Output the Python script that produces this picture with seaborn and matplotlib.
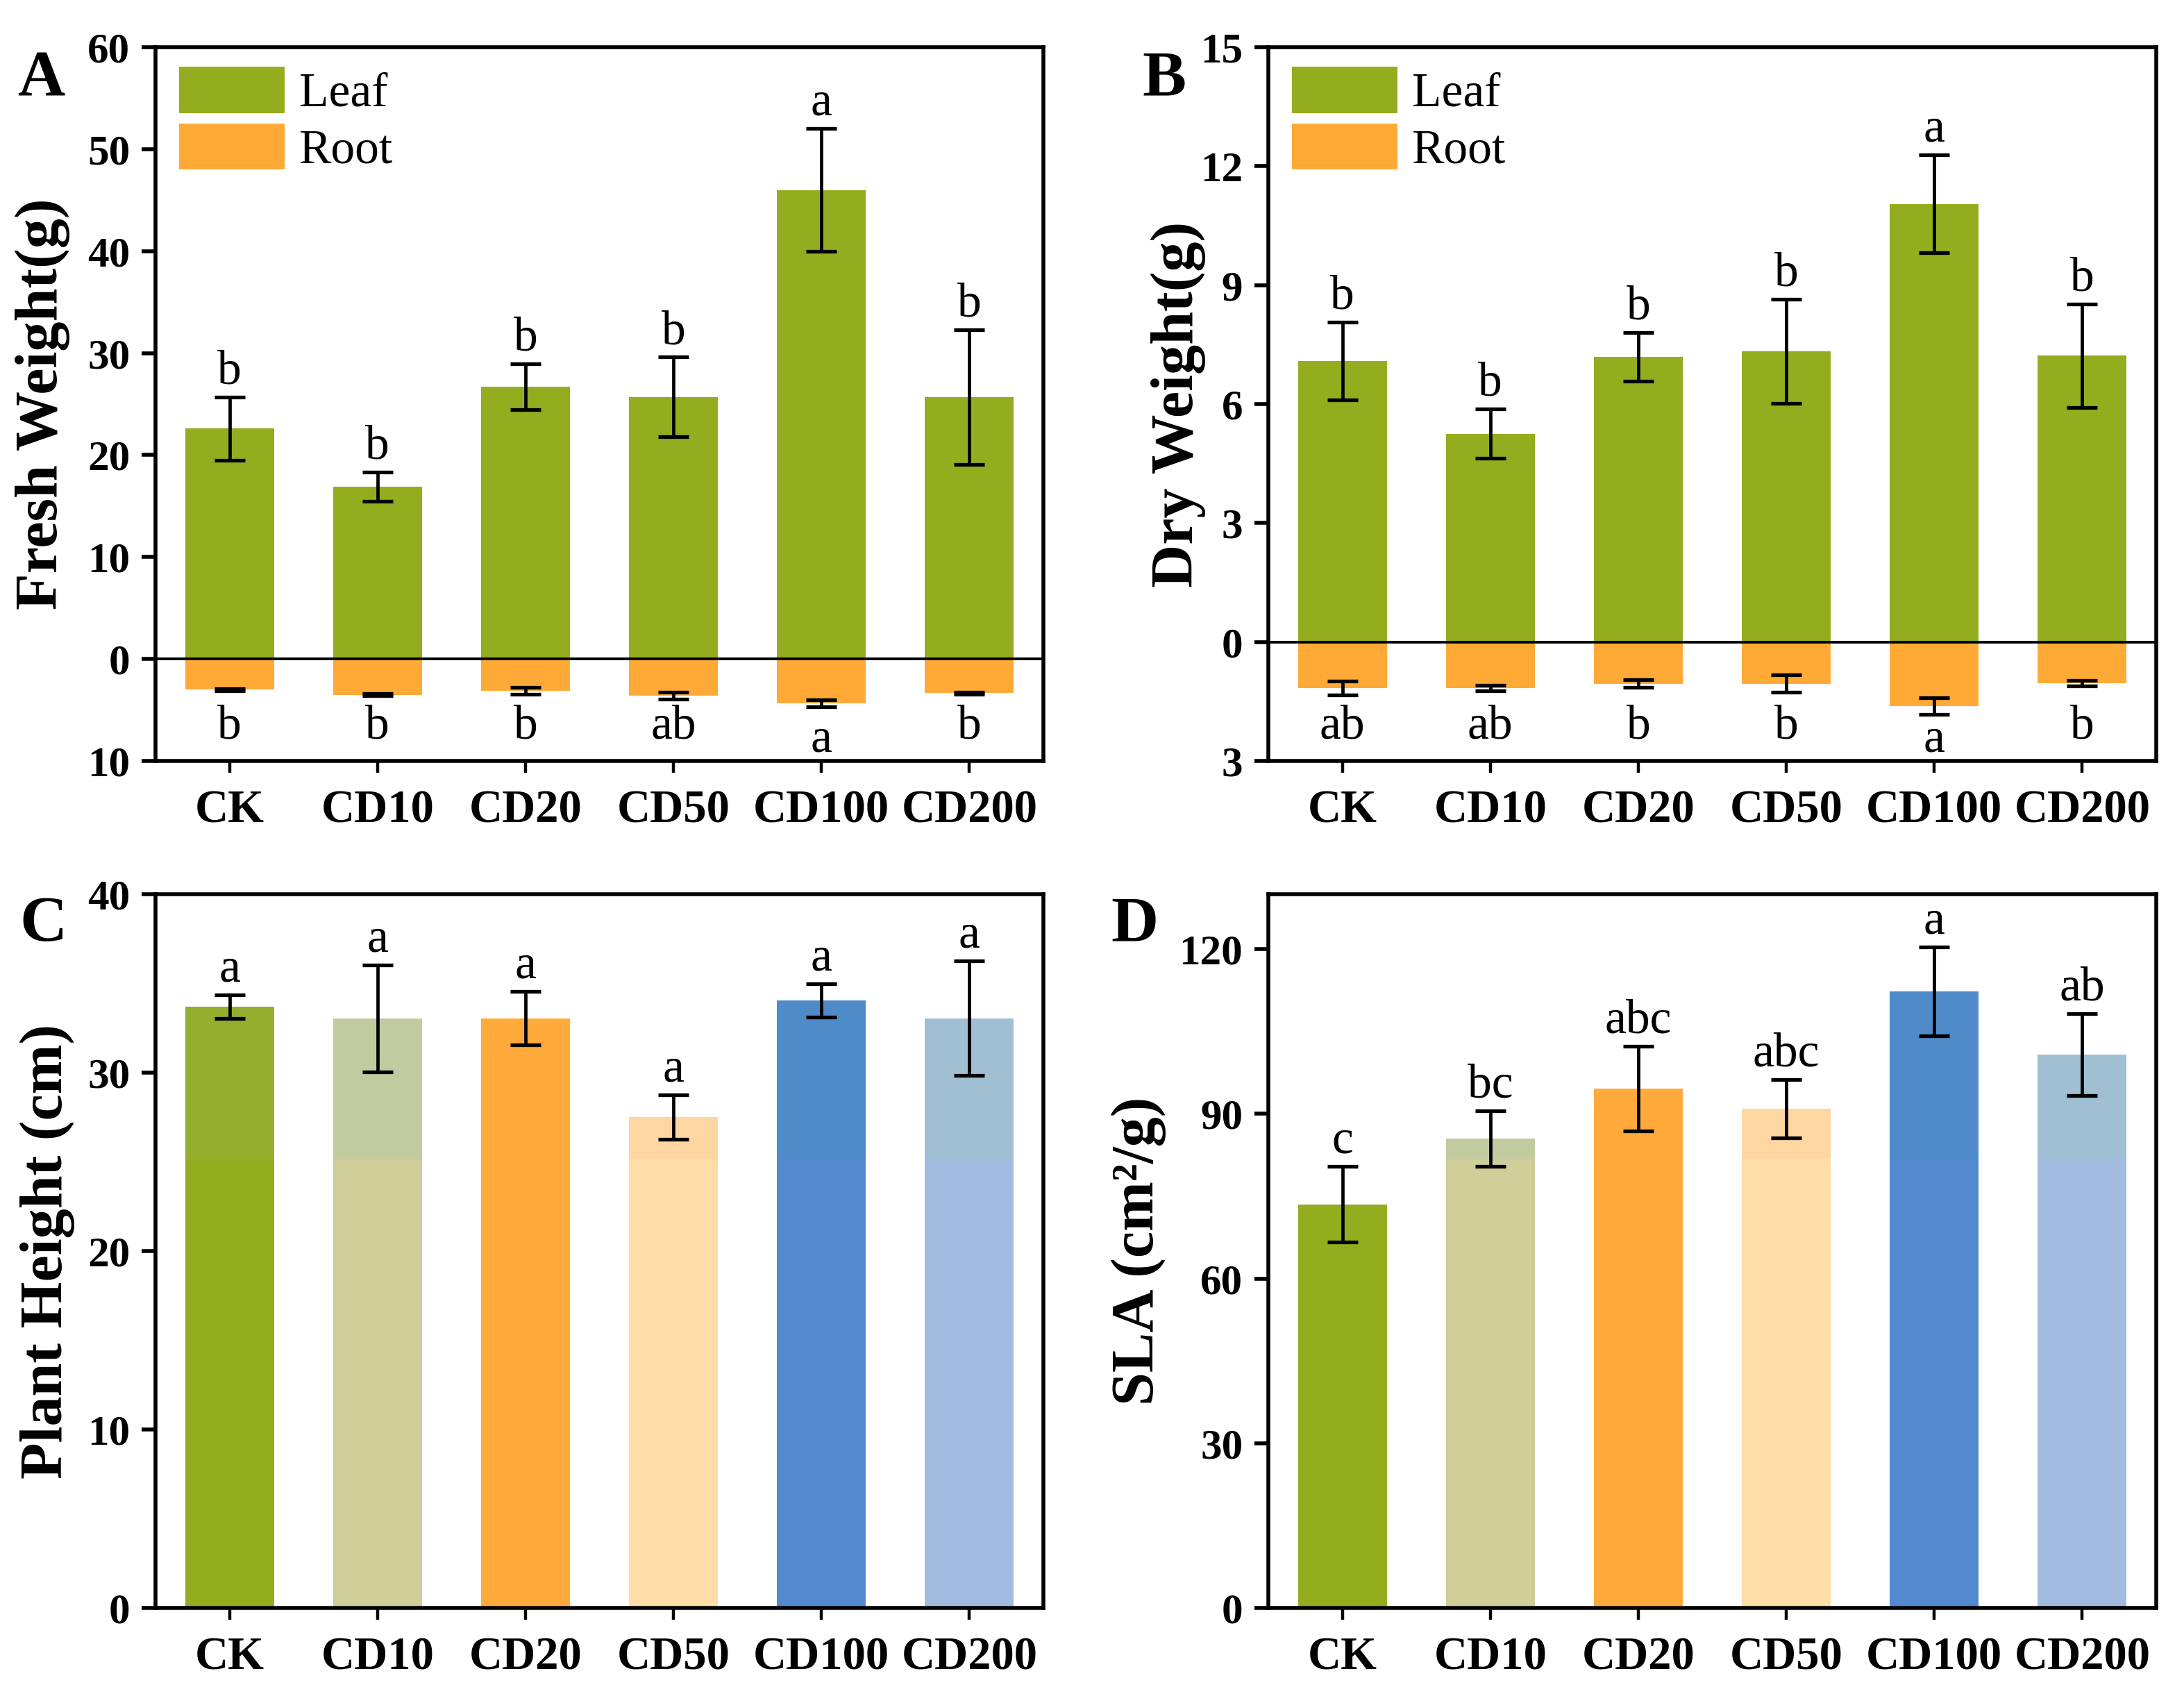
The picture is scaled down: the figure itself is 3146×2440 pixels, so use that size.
import numpy as np
import pandas as pd
import matplotlib
matplotlib.use('Agg')
import matplotlib.pyplot as plt
import matplotlib.transforms as mtransforms
import seaborn as sns

groups = ['CK', 'CD10', 'CD20', 'CD50', 'CD100', 'CD200']

# A - fresh weight
fresh_leaf = [22.6, 16.9, 26.7, 25.7, 46.0, 25.7]
fresh_leaf_err = [3.1, 1.45, 2.25, 3.9, 6.05, 6.6]
fresh_root = [3.0, 3.5, 3.1, 3.6, 4.35, 3.35]
fresh_root_err = [0.1, 0.1, 0.35, 0.35, 0.33, 0.1]
fresh_leaf_letters = ['b', 'b', 'b', 'b', 'a', 'b']
fresh_root_letters = ['b', 'b', 'b', 'ab', 'a', 'b']

# B - dry weight
dry_leaf = [7.08, 5.25, 7.19, 7.33, 11.05, 7.22]
dry_leaf_err = [0.98, 0.62, 0.61, 1.32, 1.23, 1.31]
dry_root = [1.16, 1.16, 1.05, 1.05, 1.62, 1.04]
dry_root_err = [0.17, 0.07, 0.1, 0.22, 0.21, 0.07]
dry_leaf_letters = ['b', 'b', 'b', 'b', 'a', 'b']
dry_root_letters = ['ab', 'ab', 'b', 'b', 'a', 'b']

# C - plant height
height = [33.7, 33.05, 33.05, 27.5, 34.05, 33.05]
height_err = [0.65, 3.0, 1.5, 1.25, 0.92, 3.2]
height_letters = ['a', 'a', 'a', 'a', 'a', 'a']

# D - SLA
sla = [73.5, 85.5, 94.6, 90.9, 112.3, 100.8]
sla_err = [6.9, 5.1, 7.75, 5.3, 8.1, 7.5]
sla_letters = ['c', 'bc', 'abc', 'abc', 'a', 'ab']

leaf_color = '#94AD1F'
root_color = '#FFAA37'
bar_colors = ['#94AD1F', '#CFCD98', '#FFAA3A', '#FEDDA9', '#5489CF', '#A4BBE0']
bar_colors_top = ['#95AE2E', '#C2CBA0', '#FFAA3B', '#FED6A2', '#4F8AC9', '#A0BFD2']

sns.set_style('ticks')
plt.rcParams['font.family'] = ['Liberation Serif', 'DejaVu Serif']
plt.rcParams['axes.linewidth'] = 2.0
for chave in ['text.color', 'axes.labelcolor', 'xtick.color', 'ytick.color', 'axes.edgecolor']:
    plt.rcParams[chave] = 'black'

W, H = 3146, 2440
fig = plt.figure(figsize=(W / 200, H / 200), dpi=200)

aw, ah = 1279 / W, 1028 / H
ax_a = fig.add_axes([224 / W, 1 - 1096 / H, aw, ah])
ax_b = fig.add_axes([1827 / W, 1 - 1096 / H, aw, ah])
ax_c = fig.add_axes([224 / W, 1 - 2316 / H, aw, ah])
ax_d = fig.add_axes([1827 / W, 1 - 2316 / H, aw, ah])

x = np.arange(len(groups))
err_kw = dict(fmt='none', ecolor='black', elinewidth=1.7, capsize=8, capthick=1.9, zorder=5)


def estilo_eixo(ax, ylim, ticks, ylabel, label_x):
    ax.set_xlim(-0.5, 5.5)
    ax.set_ylim(*ylim)
    ax.set_yticks(ticks)
    ax.set_yticklabels([f'{abs(t):g}' for t in ticks], fontsize=22, fontweight='bold')
    ax.set_xticks(x)
    ax.set_xticklabels(groups, fontsize=24, fontweight='bold')
    ax.tick_params(axis='y', direction='out', length=7.2, width=2, pad=6, color='black')
    ax.tick_params(axis='x', direction='out', length=6, width=1.6, pad=9, color='black')
    ax.set_xlabel('')
    ax.set_ylabel(ylabel, fontsize=31, fontweight='bold', color='black')
    ax.yaxis.set_label_coords(label_x, 0.5)
    for s in ax.spines.values():
        s.set_linewidth(2.0)
        s.set_color('black')
        s.set_visible(True)


def letras_topo(ax, tops, letras):
    for xi, t, l in zip(x, tops, letras):
        ax.annotate(l, (xi, t), xytext=(0, 7), textcoords='offset points',
                    ha='center', va='baseline', fontsize=25)


def painel_peso(ax, leaf, leaf_err, root, root_err, leaf_let, root_let, ylim, ticks, ylabel, label_x):
    df = pd.DataFrame({
        'grupo': groups * 2,
        'valor': list(leaf) + [-r for r in root],
        'parte': ['Leaf'] * len(groups) + ['Root'] * len(groups),
    })
    sns.barplot(data=df, x='grupo', y='valor', hue='parte', dodge=False, order=groups,
                palette={'Leaf': leaf_color, 'Root': root_color}, width=0.6,
                saturation=1, linewidth=0, ax=ax)
    ax.axhline(0, color='black', lw=1.4, zorder=4)
    ax.errorbar(x, leaf, yerr=leaf_err, **err_kw)
    ax.errorbar(x, [-r for r in root], yerr=root_err, **err_kw)
    letras_topo(ax, np.array(leaf) + np.array(leaf_err), leaf_let)
    trans = mtransforms.blended_transform_factory(ax.transData, ax.transAxes)
    for xi, l in zip(x, root_let):
        # letters centred on their ink: x-height-only letters sit a little lower
        baixo = 0 if set(l) & set('bdfhklt') else -7
        ax.annotate(l, (xi, 0.032), xycoords=trans, xytext=(0, baixo),
                    textcoords='offset points', ha='center', va='baseline', fontsize=25)
    handles, labels = ax.get_legend_handles_labels()
    ax.legend(handles, labels, loc='upper left', bbox_to_anchor=(34 / 1279, 1 - 28 / 1028),
              frameon=False, fontsize=25, handlelength=2.19, handleheight=1.1,
              handletextpad=0.3, labelspacing=0.14, borderpad=0, borderaxespad=0)
    estilo_eixo(ax, ylim, ticks, ylabel, label_x)


def painel_simples(ax, vals, errs, letras, ylim, ticks, ylabel, label_x):
    corte = 0.628 * ylim[1]
    sns.barplot(x=groups, y=vals, hue=groups, palette=bar_colors_top, order=groups,
                width=0.6, saturation=1, linewidth=0, legend=False, ax=ax)
    sns.barplot(x=groups, y=np.minimum(vals, corte), hue=groups, palette=bar_colors,
                order=groups, width=0.6, saturation=1, linewidth=0, legend=False, ax=ax)
    ax.errorbar(x, vals, yerr=errs, **err_kw)
    letras_topo(ax, np.array(vals) + np.array(errs), letras)
    estilo_eixo(ax, ylim, ticks, ylabel, label_x)


painel_peso(ax_a, fresh_leaf, fresh_leaf_err, fresh_root, fresh_root_err,
            fresh_leaf_letters, fresh_root_letters, (-10, 60), list(range(-10, 61, 10)),
            'Fresh Weight(g)', -0.096)
painel_peso(ax_b, dry_leaf, dry_leaf_err, dry_root, dry_root_err,
            dry_leaf_letters, dry_root_letters, (-3, 15), list(range(-3, 16, 3)),
            'Dry Weight(g)', -0.07)
painel_simples(ax_c, height, height_err, height_letters, (0, 40), list(range(0, 41, 10)),
               'Plant Height (cm)', -0.091)
painel_simples(ax_d, sla, sla_err, sla_letters, (0, 130), list(range(0, 121, 30)),
               'SLA (cm²/g)', -0.115)

for letra, px, py in [('A', 25, 72), ('B', 1645, 72), ('C', 28, 1290), ('D', 1600, 1290)]:
    fig.text(px / W, 1 - py / H, letra, fontsize=34, fontweight='bold', ha='left', va='top')

fig.savefig('out.png', dpi=200)
